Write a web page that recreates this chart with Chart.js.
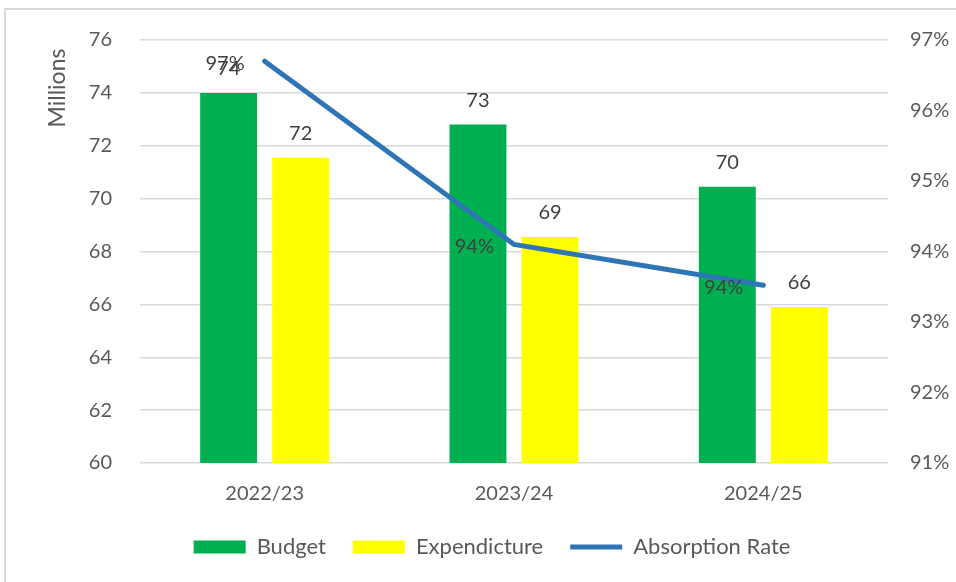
<!DOCTYPE html>
<html>
<head>
<meta charset="utf-8">
<script src="https://cdn.jsdelivr.net/npm/chart.js@4"></script>
<style>
  html, body { margin: 0; padding: 0; background: #fff; }
  #wrap { position: relative; width: 956px; height: 582px; overflow: hidden; }
  #frame { position: absolute; left: 4px; top: 8px; width: 1000px; height: 1000px; border: 2px solid #d9d9d9; }
  canvas { position: absolute; left: 0; top: 0; }
</style>
</head>
<body>
<div id="wrap">
  <div id="frame"></div>
  <canvas id="chart" width="956" height="582"></canvas>
</div>
<script>
// values
const years = ['2022/23', '2023/24', '2024/25'];
const budget = [74.0, 72.8, 70.45];         // millions
const expenditure = [71.55, 68.55, 65.9];   // millions
const absorptionRate = [96.7, 94.1, 93.52]; // percent

const textColor = '#595959';
const fontFamily = 'Lato, "Open Sans", sans-serif';

// value labels on bars and line points
const valueLabels = {
  id: 'valueLabels',
  afterDatasetsDraw(chart) {
    const ctx = chart.ctx;
    ctx.save();
    ctx.font = '20px ' + fontFamily;
    ctx.fillStyle = '#404040';
    chart.data.datasets.forEach((ds, i) => {
      const meta = chart.getDatasetMeta(i);
      meta.data.forEach((el, j) => {
        const v = ds.data[j];
        if (ds.type === 'line') {
          ctx.textAlign = 'right';
          ctx.textBaseline = 'middle';
          ctx.fillText(Math.round(v) + '%', el.x - 20, el.y + 2);
        } else {
          ctx.textAlign = 'center';
          ctx.textBaseline = 'bottom';
          ctx.fillText(Math.round(v), el.x, el.y - 14);
        }
      });
    });
    ctx.restore();
  }
};

// "Millions" axis title sits near the top of the left axis
const unitTitle = {
  id: 'unitTitle',
  afterDraw(chart) {
    const ctx = chart.ctx;
    ctx.save();
    ctx.translate(58, 88);
    ctx.rotate(-Math.PI / 2);
    ctx.font = '23px ' + fontFamily;
    ctx.fillStyle = textColor;
    ctx.textAlign = 'center';
    ctx.textBaseline = 'middle';
    ctx.fillText('Millions', 0, 0);
    ctx.restore();
  }
};

// legend in the original sits a little right of centre
const legendShift = {
  id: 'legendShift',
  afterLayout(chart) {
    chart.legend.left += 14;
    chart.legend.right += 14;
  }
};

new Chart(document.getElementById('chart'), {
  type: 'bar',
  data: {
    labels: years,
    datasets: [
      {
        label: 'Budget',
        data: budget,
        backgroundColor: '#00b050',
        yAxisID: 'y',
        order: 1,
        categoryPercentage: 0.578,
        barPercentage: 0.79
      },
      {
        label: 'Expendicture',
        data: expenditure,
        backgroundColor: '#ffff00',
        yAxisID: 'y',
        order: 1,
        categoryPercentage: 0.578,
        barPercentage: 0.79
      },
      {
        type: 'line',
        label: 'Absorption Rate',
        data: absorptionRate,
        borderColor: '#2e75b6',
        backgroundColor: '#2e75b6',
        borderWidth: 5,
        borderCapStyle: 'round',
        pointRadius: 0,
        tension: 0,
        yAxisID: 'y1',
        order: 0
      }
    ]
  },
  options: {
    responsive: false,
    animation: false,
    layout: { padding: { top: 38, bottom: 14, left: 0, right: 0 } },
    plugins: {
      legend: {
        position: 'bottom',
        labels: {
          usePointStyle: true,
          pointStyleWidth: 52,
          boxHeight: 13,
          padding: 27,
          color: textColor,
          font: { size: 22, family: fontFamily },
          sort: (a, b) => a.datasetIndex - b.datasetIndex,
          generateLabels(chart) {
            const items = Chart.defaults.plugins.legend.labels.generateLabels(chart);
            items.forEach(it => {
              const ds = chart.data.datasets[it.datasetIndex];
              const isLine = ds.type === 'line';
              it.pointStyle = isLine ? 'line' : 'rect';
              it.lineWidth = isLine ? 5 : 0;
              it.strokeStyle = isLine ? '#2e75b6' : ds.backgroundColor;
              it.fillStyle = isLine ? '#2e75b6' : ds.backgroundColor;
            });
            return items;
          }
        }
      },
      tooltip: { enabled: false }
    },
    scales: {
      x: {
        grid: { display: false, drawTicks: false },
        border: { display: false },
        ticks: { color: textColor, font: { size: 20, family: fontFamily }, padding: 19 },
        afterFit(scale) { scale.height = 46; }
      },
      y: {
        position: 'left',
        min: 60,
        max: 76,
        ticks: { stepSize: 2, color: textColor, font: { size: 20, family: fontFamily }, padding: 28 },
        grid: { color: '#d9d9d9', lineWidth: 1.5, drawTicks: false },
        border: { display: false },
        afterFit(scale) { scale.width = 140; }
      },
      y1: {
        position: 'right',
        min: 91,
        max: 97,
        ticks: {
          stepSize: 1,
          color: textColor,
          font: { size: 20, family: fontFamily },
          padding: 22,
          callback: v => v + '%'
        },
        grid: { display: false, drawTicks: false },
        border: { display: false },
        afterFit(scale) { scale.width = 68; }
      }
    }
  },
  plugins: [valueLabels, unitTitle, legendShift]
});
</script>
</body>
</html>
